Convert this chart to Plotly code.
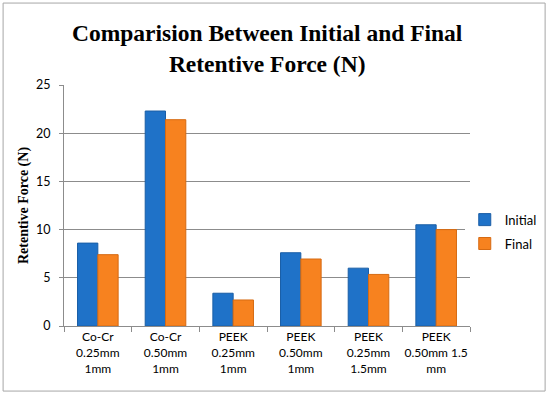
import plotly.graph_objects as go

categories = ["Co-Cr<br>0.25mm<br>1mm", "Co-Cr<br>0.50mm<br>1mm", "PEEK<br>0.25mm<br>1mm",
              "PEEK<br>0.50mm<br>1mm", "PEEK<br>0.25mm<br>1.5mm", "PEEK<br>0.50mm 1.5<br>mm"]
initial = [8.6, 22.3, 3.4, 7.6, 6.0, 10.5]
final = [7.4, 21.4, 2.7, 6.95, 5.35, 10.0]
y_ticks = [0, 5, 10, 15, 20, 25]

fig = go.Figure()
fig.add_trace(go.Bar(name="Initial", x=categories, y=initial, legendgroup="a",
                     marker=dict(color="#1f72c8", line=dict(color="#1a5ea6", width=1))))
fig.add_trace(go.Bar(name="Final", x=categories, y=final, legendgroup="b",
                     marker=dict(color="#f7821f", line=dict(color="#d66a12", width=1))))

fig.update_layout(
    width=550, height=396,
    paper_bgcolor="white", plot_bgcolor="white",
    margin=dict(l=64, r=80, t=85, b=70, autoexpand=False),
    barmode="group", bargap=0.4, bargroupgap=0,
    legend=dict(xref="container", yref="container", x=0.845, xanchor="left",
                y=0.415, yanchor="middle", traceorder="grouped",
                font=dict(family="Lato", size=13, color="black"),
                itemwidth=30, tracegroupgap=4),
    font=dict(family="Lato", size=12, color="black"),
)
fig.add_annotation(text="<b>Comparision Between Initial and Final<br>Retentive Force (N)</b>",
                   xref="paper", yref="paper", x=0.5, y=1.153, xanchor="center", yanchor="middle",
                   showarrow=False, align="center",
                   font=dict(family="Liberation Serif", size=23.5, color="black"))
fig.update_yaxes(range=[0, 25], tickvals=y_ticks, showgrid=True, gridcolor="#8c8c8c", gridwidth=1,
                 showline=True, linecolor="#8c8c8c", ticks="outside", ticklen=4, tickcolor="#8c8c8c",
                 ticklabelstandoff=6,
                 title=dict(text="<b>Retentive Force (N)</b>",
                            font=dict(family="Liberation Serif", size=14, color="black"), standoff=4),
                 tickfont=dict(family="Lato", size=12.5, color="black"), zeroline=False)
fig.update_xaxes(showline=True, linecolor="#8c8c8c", ticks="outside", tickson="boundaries",
                 ticklen=5, tickcolor="#8c8c8c", tickangle=0,
                 tickfont=dict(family="Lato", size=12, color="black"))
fig.add_shape(type="rect", xref="paper", yref="paper", x0=-0.150, y0=-0.27, x1=1.185, y1=1.34,
              line=dict(color="#a6a6a6", width=1))
fig.write_html("out.html", config={"displayModeBar": False},
               post_script="document.body.style.margin='0';")
